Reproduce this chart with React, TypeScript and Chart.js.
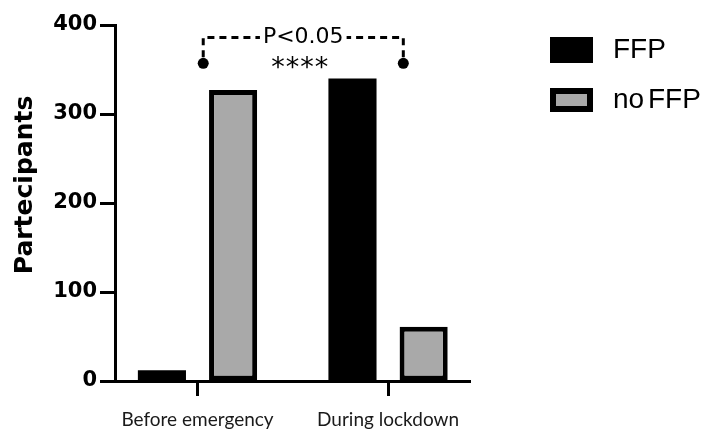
import React, { useEffect, useRef } from "react";
import { Chart, registerables } from "chart.js";

Chart.register(...registerables);

const CATEGORIES = ["Before emergency", "During lockdown"];
const SERIES_NAMES = ["FFP", "no FFP"];
const FFP_VALUES = [12, 340];
const NO_FFP_VALUES = [327, 61];
const Y_TICKS = [0, 100, 200, 300, 400];
const Y_TITLE = "Partecipants";
const SIGNIF_TEXT = "P<0.05";
const STARS_TEXT = "****";
// bracket endpoints in data units (x index, y value)
const BRACKET_X = [0.03, 1.08];
const BRACKET_Y = [386, 357];

const GRAY = "#a9a9a9";

const annotationPlugin = {
  id: "annot",
  afterDraw(chart: any) {
    const { ctx } = chart;
    const xs = chart.scales.x;
    const ys = chart.scales.y;
    const x0 = xs.getPixelForValue(BRACKET_X[0]);
    const x1 = xs.getPixelForValue(BRACKET_X[1]);
    const yTop = ys.getPixelForValue(BRACKET_Y[0]);
    const yDot = ys.getPixelForValue(BRACKET_Y[1]);
    const cx = (x0 + x1) / 2;
    ctx.save();
    ctx.font = "22px 'DejaVu Sans'";
    const tw = ctx.measureText(SIGNIF_TEXT).width;
    ctx.strokeStyle = "#000";
    ctx.lineWidth = 3;
    ctx.setLineDash([7, 5]);
    ctx.beginPath();
    ctx.moveTo(x0, yDot - 6);
    ctx.lineTo(x0, yTop);
    ctx.lineTo(cx - tw / 2 - 3, yTop);
    ctx.moveTo(x1, yDot - 6);
    ctx.lineTo(x1, yTop);
    ctx.lineTo(cx + tw / 2 + 3, yTop);
    ctx.stroke();
    ctx.setLineDash([]);
    ctx.fillStyle = "#000";
    for (const xx of [x0, x1]) {
      ctx.beginPath();
      ctx.arc(xx, yDot, 5.5, 0, Math.PI * 2);
      ctx.fill();
    }
    ctx.textAlign = "center";
    ctx.textBaseline = "middle";
    ctx.fillText(SIGNIF_TEXT, cx, yTop);
    ctx.font = "27px 'DejaVu Sans'";
    ctx.textBaseline = "alphabetic";
    (ctx as any).letterSpacing = "1px";
    ctx.fillText(STARS_TEXT, cx - 3, yDot + 13);
    (ctx as any).letterSpacing = "0px";

    // y title
    ctx.save();
    ctx.translate(25, 185);
    ctx.rotate(-Math.PI / 2);
    ctx.font = "bold 25px 'DejaVu Sans'";
    ctx.textAlign = "center";
    ctx.textBaseline = "middle";
    ctx.fillText(Y_TITLE, 0, 0);
    ctx.restore();

    // legend
    const ds = chart.data.datasets;
    const lx = 550;
    const rows = [50, 100];
    ds.forEach((d: any, i: number) => {
      const cy = rows[i];
      const bw = 43;
      const bh = i === 0 ? 26 : 24;
      ctx.fillStyle = d.borderColor;
      ctx.fillRect(lx, cy - bh / 2, bw, bh);
      if (i === 1) {
        ctx.fillStyle = d.backgroundColor;
        ctx.fillRect(lx + 6, cy - bh / 2 + 6, bw - 12, bh - 12);
      }
      ctx.fillStyle = "#000";
      ctx.font = "28px 'Liberation Sans'";
      ctx.textAlign = "left";
      ctx.textBaseline = "middle";
      (ctx as any).wordSpacing = "-4px";
      ctx.fillText(d.label, 613, cy);
      (ctx as any).wordSpacing = "0px";
    });
    ctx.restore();
  },
};

export default function App() {
  const ref = useRef<HTMLCanvasElement>(null);
  useEffect(() => {
    const canvas = ref.current!;
    const chart = new Chart(canvas, {
      type: "bar",
      data: {
        datasets: [
          {
            label: SERIES_NAMES[0],
            data: FFP_VALUES.map((v, i) => ({ x: i, y: v })),
            backgroundColor: "#000",
            borderColor: "#000",
            borderWidth: 0,
            barPercentage: 0.676,
            categoryPercentage: 0.747,
          },
          {
            label: SERIES_NAMES[1],
            data: NO_FFP_VALUES.map((v, i) => ({ x: i, y: v })),
            backgroundColor: GRAY,
            borderColor: "#000",
            borderWidth: 5,
            borderSkipped: false,
            barPercentage: 0.676,
            categoryPercentage: 0.747,
          },
        ],
      },
      options: {
        responsive: false,
        animation: false,
        devicePixelRatio: 1,
        layout: { padding: { left: 0, top: 25, right: 232, bottom: 0 } },
        plugins: { legend: { display: false }, tooltip: { enabled: false } },
        scales: {
          x: {
            type: "linear",
            offset: false,
            min: -0.433,
            max: 1.43,
            afterBuildTicks: (s: any) => {
              s.ticks = CATEGORIES.map((_, i) => ({ value: i }));
            },
            afterFit: (s: any) => {
              s.height = 49;
            },
            grid: {
              offset: false,
              drawOnChartArea: false,
              drawTicks: true,
              tickLength: 15,
              tickWidth: 3,
              tickColor: "#000",
            },
            border: { display: true, color: "#000", width: 3 },
            ticks: {
              autoSkip: false,
              maxRotation: 0,
              padding: 12,
              color: "#1a1a1a",
              font: { family: "Lato", size: 19 },
              callback: (_v: any, i: number) => CATEGORIES[i],
            },
          },
          y: {
            min: 0,
            max: 400,
            afterBuildTicks: (s: any) => {
              s.ticks = Y_TICKS.map((v) => ({ value: v }));
            },
            afterFit: (s: any) => {
              s.width = 115;
            },
            grid: {
              drawOnChartArea: false,
              drawTicks: true,
              tickLength: 15,
              tickWidth: 3,
              tickColor: "#000",
            },
            border: { display: true, color: "#000", width: 3 },
            ticks: {
              padding: 3,
              color: "#000",
              font: { family: "DejaVu Sans", size: 21, weight: "bold" },
            },
          },
        },
      },
      plugins: [annotationPlugin],
    });
    return () => chart.destroy();
  }, []);
  return (
    <div style={{ position: "fixed", left: 0, top: 0, width: 702, height: 430, background: "#fff" }}>
      <canvas ref={ref} width={702} height={430} style={{ display: "block" }} />
    </div>
  );
}
